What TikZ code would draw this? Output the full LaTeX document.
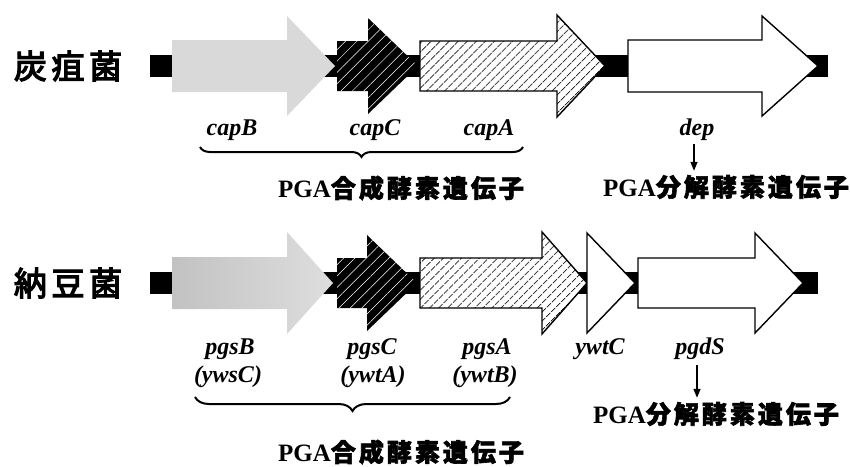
\documentclass[tikz,border=0pt]{standalone}
\usepackage{fontspec}
\setmainfont{Liberation Serif}
\newfontfamily\jp[FakeBold=2.4,LetterSpace=12]{Noto Sans CJK JP}
\newfontfamily\jpbig[FakeBold=3.8,LetterSpace=14]{Noto Sans CJK JP}
\usetikzlibrary{patterns.meta,decorations.pathreplacing,arrows.meta}
\tikzset{
  stipple/.style={fill=gray!30},
  stippledark/.style={left color=gray!48,right color=gray!26,shading angle=90},
  blackhatch/.style={fill=black,postaction={pattern={Lines[angle=45,distance=8pt,line width=0.5pt]},pattern color=white}},
  whitehatch/.style={draw=black,line width=1.4pt,preaction={fill=white},pattern={Lines[angle=45,distance=6.5pt,line width=0.9pt]},pattern color=black},
  plain/.style={draw=black,line width=1.4pt,fill=white},
  backbone/.style={fill=black},
  genename/.style={font=\fontsize{24}{27}\selectfont\bfseries\itshape,inner sep=0pt},
  species/.style={font=\fontsize{33}{36}\selectfont\jpbig,inner sep=0pt},
  caption/.style={font=\fontsize{25}{28}\selectfont\bfseries,inner sep=0pt},
  bracestyle/.style={decorate,decoration={brace,mirror,amplitude=#1},line width=2pt},
  downarrow/.style={line width=1.4pt,-{Triangle[length=9pt,width=7pt]}}
}
% gene arrow: style, x0, xh, xt, cy, body half, head half
\newcommand\genearrow[7]{\path[#1] (#2,{#5-#6}) -- (#3,{#5-#6}) -- (#3,{#5-#7}) -- (#4,#5) -- (#3,{#5+#7}) -- (#3,{#5+#6}) -- (#2,{#5+#6}) -- cycle;}
\begin{document}
\begin{tikzpicture}[x=1pt,y=-1pt]
\path[use as bounding box,fill=white] (0,0) rectangle (850,466);

% ---------- row 1: anthrax ----------
\node[species] (sp1) at (68,66) {炭疽菌};
\path[backbone] (150,55) rectangle (828,77);
\genearrow{stipple}{172}{287}{335}{66}{26}{50}
\genearrow{blackhatch}{337}{368}{418}{66}{25}{48}
\genearrow{whitehatch}{420}{557}{605}{66}{25}{51}
\genearrow{plain}{628}{762}{818}{66}{26}{50}

\node[genename] (capB) at (232,130) {capB};
\node[genename] (capC) at (375,130) {capC};
\node[genename] (capA) at (489,130) {capA};
\node[genename] (dep) at (697,130) {dep};
\coordinate (b1l) at (200,147);
\coordinate (b1r) at (523,147);
\draw[bracestyle=10pt] (b1l) -- (b1r);
\node[caption] (syn1) at (401,188) {PGA{\jp 合成酵素遺伝子}};
\node[caption] (deg1) at (726,187) {PGA{\jp 分解酵素遺伝子}};
\draw[downarrow,shorten <=3pt,shorten >=4pt] (dep.south -| 694,0) -- (deg1.north -| 694,0);

% ---------- row 2: natto ----------
\node[species] (sp2) at (68,283) {納豆菌};
\path[backbone] (150,272) rectangle (818,294);
\genearrow{stippledark}{172}{287}{333}{283}{26}{51}
\genearrow{blackhatch}{337}{367}{417}{283}{25}{48}
\genearrow{whitehatch}{420}{542}{587}{283}{25}{51}
\path[plain] (587,233) -- (635,283) -- (587,333) -- cycle;
\genearrow{plain}{638}{755}{803}{283}{25}{50}

\node[genename] (pgsB) at (230,349) {pgsB};
\node[genename] (pgsC) at (372,349) {pgsC};
\node[genename] (pgsA) at (487,349) {pgsA};
\node[genename] (ywtC) at (600,349) {ywtC};
\node[genename] (pgdS) at (700,349) {pgdS};
\node[genename] (ywsC) at (228,377) {(ywsC)};
\node[genename] (ywtA) at (373,377) {(ywtA)};
\node[genename] (ywtB) at (485,377) {(ywtB)};
\coordinate (b2l) at (195,397);
\coordinate (b2r) at (510,397);
\draw[bracestyle=14pt] (b2l) -- (b2r);
\node[caption] (syn2) at (401,452) {PGA{\jp 合成酵素遺伝子}};
\node[caption] (deg2) at (716,414) {PGA{\jp 分解酵素遺伝子}};
\draw[downarrow,shorten <=5pt,shorten >=4pt] (pgdS.south -| 697,0) -- (deg2.north -| 697,0);
\end{tikzpicture}
\end{document}
